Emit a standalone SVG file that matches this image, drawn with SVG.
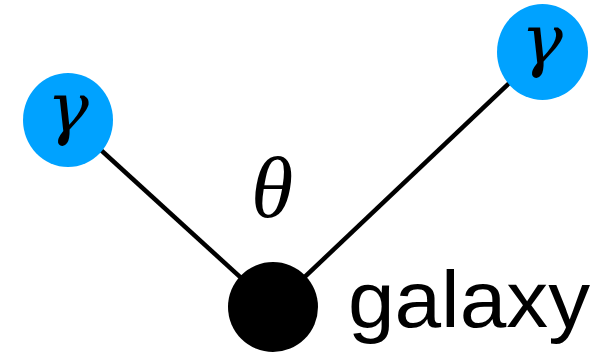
<svg xmlns="http://www.w3.org/2000/svg" width="607" height="355" viewBox="0 0 607 355">
<style>
.photon{fill:#00a2ff;}
.gal{fill:#000;}
.edge{stroke:#000;stroke-width:4.5;fill:none;}
.greek{font-family:"DejaVu Serif","Liberation Serif",serif;font-style:italic;fill:#000;text-anchor:middle;}
.theta{font-family:"Liberation Serif",serif;font-style:italic;fill:#000;text-anchor:middle;}
.lbl{font-family:"Liberation Sans",sans-serif;fill:#000;}
</style>
<rect width="607" height="355" fill="#fff"/>
<g id="connectors">
<line class="edge" x1="68" y1="120" x2="273" y2="307"/>
<line class="edge" x1="542" y1="52" x2="273" y2="307"/>
</g>
<g id="photon-left">
<ellipse class="photon" cx="68" cy="120" rx="45" ry="47"/>
<text class="greek" x="68" y="132" font-size="70">γ</text>
</g>
<g id="photon-right">
<ellipse class="photon" cx="542.5" cy="52" rx="45.5" ry="48"/>
<text class="greek" x="542" y="64" font-size="70">γ</text>
</g>
<g id="galaxy">
<ellipse class="gal" cx="273" cy="307" rx="45" ry="45"/>
<text class="lbl" x="348" y="327" font-size="80" textLength="242" lengthAdjust="spacingAndGlyphs">galaxy</text>
</g>
<g id="angle">
<text class="theta" x="272" y="217" font-size="86">θ</text>
</g>
</svg>
